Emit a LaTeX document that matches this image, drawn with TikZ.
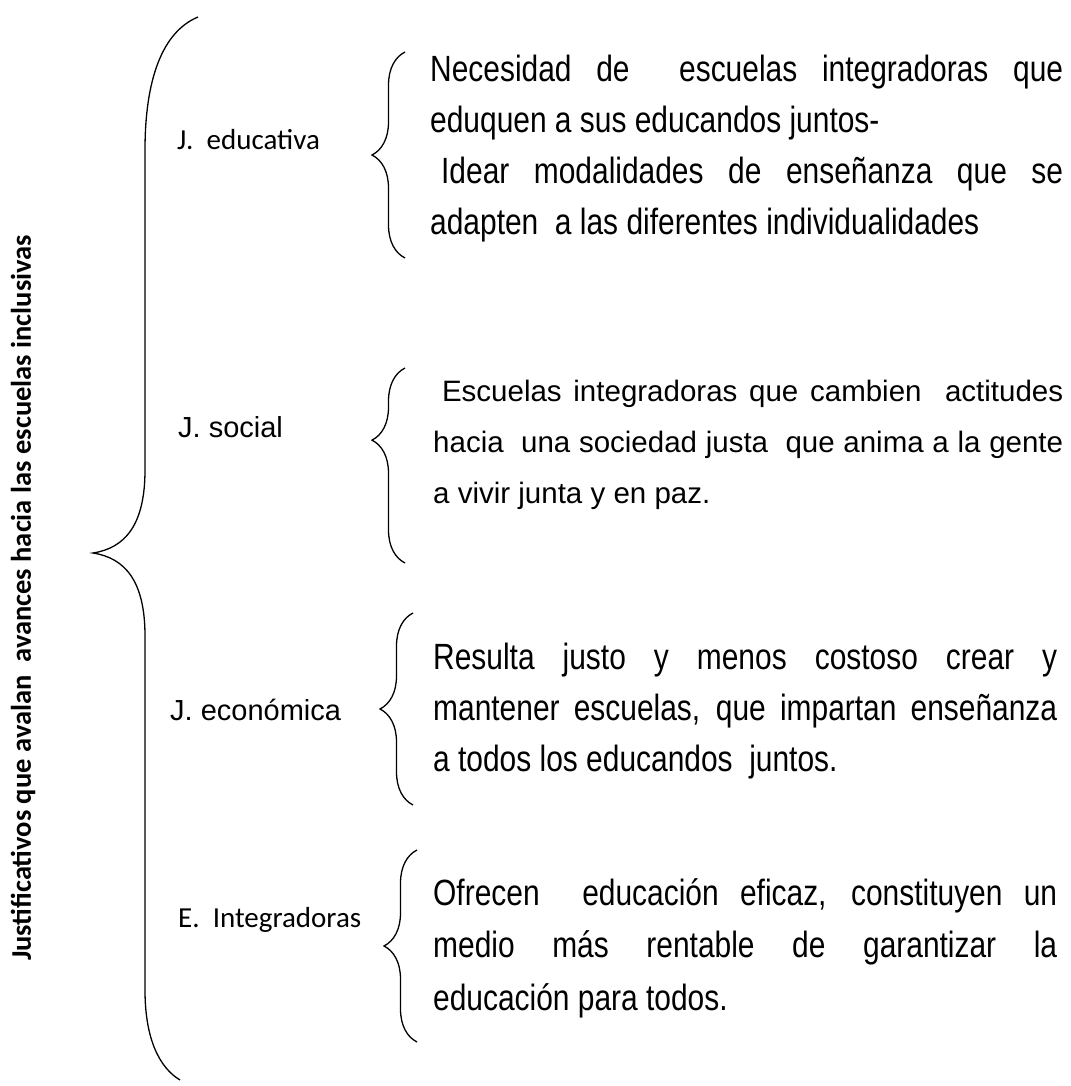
\documentclass[tikz,border=0pt]{standalone}
\usepackage{fontspec}
\setmainfont{Liberation Sans}
\newfontfamily\narrowfont[FakeStretch=0.82]{Liberation Sans}
\newfontfamily\calfont{Carlito}
\usetikzlibrary{decorations.pathreplacing}
\tolerance=10000
\hbadness=10000
\hyphenpenalty=10000

\begin{document}
\begin{tikzpicture}[x = 1pt, y = -1pt,
    jlabel/.style = {anchor = west, inner sep = 0pt, font = \fontsize{29}{35}\selectfont},
    calabel/.style = {jlabel, font = \calfont\fontsize{29}{35}\selectfont},
    textblock/.style = {anchor = north west, inner sep = 0pt, align = justify, text width = 633pt,
        font = \narrowfont\fontsize{36.5}{51}\selectfont},
    curly/.style = {decorate, decoration = {brace, amplitude = 33pt}, line width = 1.3pt}]
    \useasboundingbox (0,0) rectangle (1070,1086);
    \node (title) at (23,598) [rotate = 90, inner sep = 0pt,
        font = \calfont\bfseries\fontsize{28.5}{35}\selectfont]
        {Justificativos que avalan\ \ avances hacia las escuelas inclusivas};
    \coordinate (top) at (198,17);
    \coordinate (tip) at (93,553);
    \coordinate (bottom) at (180,1080);
    \draw [line width = 1.3pt] (top) .. controls (162,32) and (145,80) .. (145,150) -- (145,470)
        .. controls (145,525) and (125,548) .. (tip)
        .. controls (125,558) and (145,581) .. (145,636) -- (145,990)
        .. controls (145,1040) and (160,1068) .. (bottom);
    \node (educ) at (177,140) [calabel] {J.\ \ educativa};
    \node (soc) at (178,427) [jlabel] {J. social};
    \node (econ) at (170,710) [jlabel] {J. económica};
    \node (integ) at (178,920) [calabel] {E.\ \ Integradoras};
    \coordinate (educ top) at (405,52);
    \coordinate (educ bot) at (405,258);
    \coordinate (soc top) at (405,368);
    \coordinate (soc bot) at (405,563);
    \coordinate (econ top) at (413,613);
    \coordinate (econ bot) at (413,805);
    \coordinate (integ top) at (417,850);
    \coordinate (integ bot) at (417,1042);
    \draw [curly] (educ bot) -- (educ top);
    \draw [curly, decoration = {aspect = 0.63}] (soc bot) -- (soc top);
    \draw [curly] (econ bot) -- (econ top);
    \draw [curly] (integ bot) -- (integ top);
    \node (educ text) at (430,55) [textblock]
        {Necesidad de\ \ escuelas integradoras que\linebreak eduquen a sus educandos juntos-\\
        \hspace*{0.3em}Idear modalidades de enseñanza que se\linebreak adapten\ \ a las diferentes individualidades};
    \node (soc text) at (433,380) [textblock, text width = 630pt, font = \fontsize{29.5}{51}\selectfont]
        {\hspace*{0.3em}Escuelas integradoras que cambien\ \ actitudes\linebreak
        hacia\ \ una sociedad justa\ \ que anima a la gente\linebreak a vivir junta y en paz.};
    \node (econ text) at (433,643) [textblock, text width = 624pt]
        {Resulta justo y menos costoso crear y\linebreak mantener escuelas, que impartan enseñanza\linebreak
        a todos los educandos\ \ juntos.};
    \node (integ text) at (433,878) [textblock, text width = 624pt, font = \narrowfont\fontsize{36.5}{52.5}\selectfont]
        {Ofrecen\ \ educación eficaz, constituyen un\linebreak medio más rentable de garantizar la\linebreak
        educación para todos.};
\end{tikzpicture}
\end{document}
